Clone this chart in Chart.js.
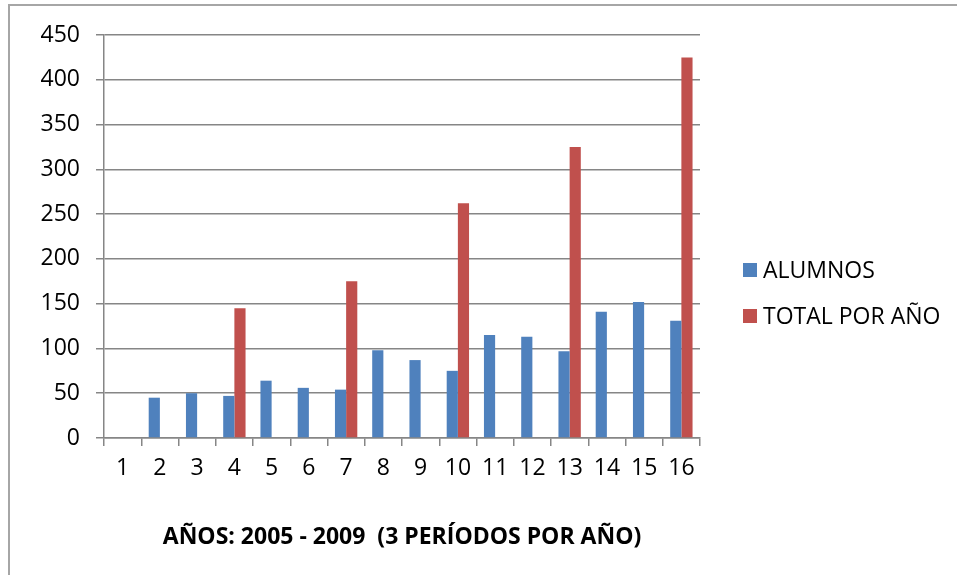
<!DOCTYPE html>
<html>
<head>
<meta charset="utf-8">
<script src="https://cdn.jsdelivr.net/npm/chart.js@4.4.0/dist/chart.umd.min.js"></script>
<style>
  body { margin: 0; background: #fff; overflow: hidden; }
  #wrap { position: relative; width: 957px; height: 575px; overflow: hidden; }
  #frame { position: absolute; left: 8px; top: 4px; width: 1000px; height: 700px;
           border: 2px solid #a6a6a6; box-sizing: border-box; }
  canvas { position: absolute; left: 0; top: 0; }
</style>
</head>
<body>
<div id="wrap">
  <div id="frame"></div>
  <canvas id="chart" width="957" height="575"></canvas>
</div>
<script>
const periods = ["1", "2", "3", "4", "5", "6", "7", "8", "9", "10", "11", "12", "13", "14", "15", "16"];
const alumnos = [null, 45, 50, 47, 64, 56, 54, 98, 87, 75, 115, 113, 97, 141, 152, 131];
const totalPorAnio = [null, null, null, 145, null, null, 175, null, null, 262, null, null, 325, null, null, 425];
const seriesNames = ["ALUMNOS", "TOTAL POR AÑO"];
const seriesColors = ["#4F81BD", "#C0504D"];
const axisTitle = "AÑOS: 2005 - 2009  (3 PERÍODOS POR AÑO)";

const FONT = "'Open Sans', 'Liberation Sans', sans-serif";
const gridColor = "#868686";

// legend drawn at the right, Excel style
const sideLegend = {
  id: "sideLegend",
  afterDraw(chart) {
    const ctx = chart.ctx;
    ctx.save();
    ctx.font = "23px " + FONT;
    ctx.textBaseline = "middle";
    chart.data.datasets.forEach((ds, i) => {
      const y = 270 + i * 46;
      ctx.fillStyle = ds.backgroundColor;
      ctx.fillRect(743, y - 7, 14, 14);
      ctx.fillStyle = "#000";
      ctx.fillText(ds.label, 763, y + 1);
    });
    ctx.restore();
  },
};

new Chart(document.getElementById("chart"), {
  type: "bar",
  data: {
    labels: periods,
    datasets: [
      { label: seriesNames[0], data: alumnos, backgroundColor: seriesColors[0] },
      { label: seriesNames[1], data: totalPorAnio, backgroundColor: seriesColors[1] },
    ],
  },
  options: {
    responsive: false,
    animation: false,
    categoryPercentage: 0.6,
    barPercentage: 1,
    layout: { padding: { top: 35, right: 257, left: 0, bottom: 0 } },
    plugins: {
      legend: { display: false },
      tooltip: { enabled: false },
    },
    scales: {
      x: {
        grid: {
          offset: true,
          drawOnChartArea: false,
          color: gridColor,
          lineWidth: 1.5,
          tickLength: 8,
        },
        border: { color: gridColor, width: 1.5 },
        ticks: { color: "#000", font: { family: FONT, size: 23 }, padding: 9, maxRotation: 0, autoSkip: false },
        title: {
          display: true,
          text: axisTitle,
          color: "#000",
          font: { family: FONT, size: 23, weight: "bold" },
          padding: { top: 0, bottom: 24 },
        },
        afterFit: (scale) => { scale.height = 137; },
      },
      y: {
        min: 0,
        max: 450,
        ticks: { stepSize: 50, color: "#000", font: { family: FONT, size: 23 }, padding: 16 },
        grid: { color: gridColor, lineWidth: 1.5, tickLength: 8 },
        border: { color: gridColor, width: 1.5 },
        afterFit: (scale) => { scale.width = 104; },
      },
    },
  },
  plugins: [sideLegend],
});
</script>
</body>
</html>
